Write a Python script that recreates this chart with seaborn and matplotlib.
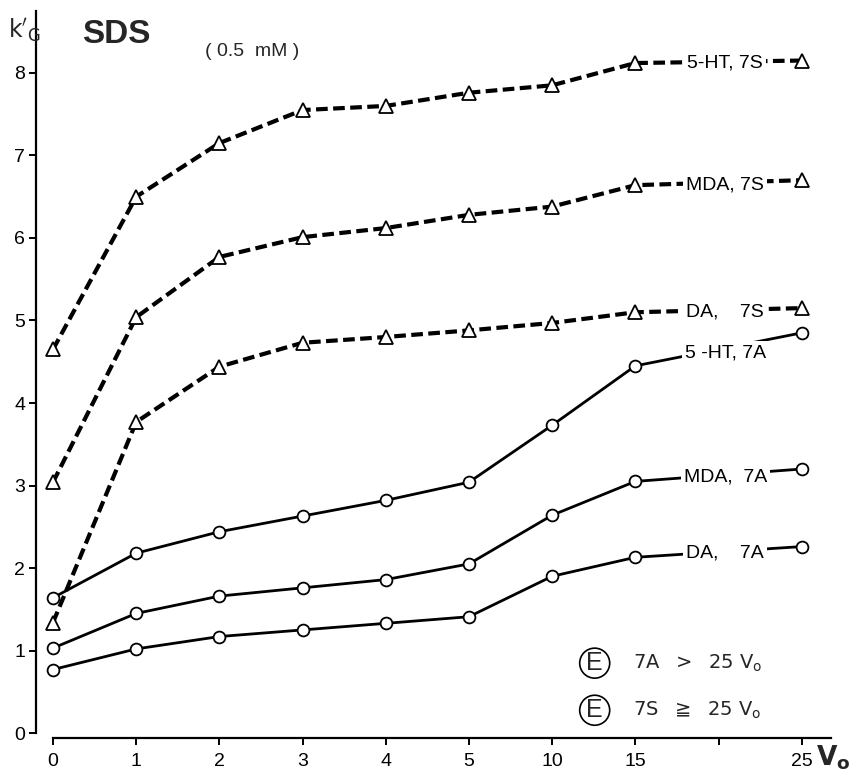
import numpy as np
import pandas as pd
import matplotlib
matplotlib.use("Agg")
import matplotlib.pyplot as plt
import seaborn as sns

# ---- data ----
v_values = [0, 1, 2, 3, 4, 5, 10, 15, 25]
tick_values = [0, 1, 2, 3, 4, 5, 10, 15, 20, 25]
tick_labels = ["0", "1", "2", "3", "4", "5", "10", "15", "", "25"]

ht5_7S = [4.65, 6.50, 7.15, 7.55, 7.60, 7.76, 7.85, 8.12, 8.15]
mda_7S = [3.04, 5.04, 5.77, 6.01, 6.12, 6.28, 6.38, 6.64, 6.70]
da_7S = [1.34, 3.77, 4.44, 4.73, 4.80, 4.88, 4.97, 5.10, 5.15]
ht5_7A = [1.64, 2.18, 2.44, 2.63, 2.82, 3.04, 3.73, 4.45, 4.85]
mda_7A = [1.03, 1.45, 1.66, 1.76, 1.86, 2.05, 2.64, 3.05, 3.20]
da_7A = [0.77, 1.02, 1.17, 1.25, 1.33, 1.41, 1.90, 2.13, 2.26]

series = [
    ("5-HT, 7S", ht5_7S, "S"),
    ("MDA, 7S", mda_7S, "S"),
    ("DA,    7S", da_7S, "S"),
    ("5 -HT, 7A", ht5_7A, "A"),
    ("MDA,  7A", mda_7A, "A"),
    ("DA,    7A", da_7A, "A"),
]
label_y = [8.12, 6.64, 5.10, 4.61, 3.10, 2.18]

sns.set_theme(style="white")
plt.rcParams["font.family"] = ["Liberation Sans", "DejaVu Sans"]
plt.rcParams["mathtext.fontset"] = "dejavusans"

fig = plt.figure(figsize=(8.52, 7.72), dpi=100)
ax = fig.add_axes([0.0427, 0.044, 0.9373, 0.9417])

# piecewise-linear V axis: ticks are evenly spaced on the page
pos = np.arange(len(tick_values), dtype=float)
def fwd(v):
    v = np.asarray(v, dtype=float)
    out = np.interp(v, tick_values, pos)
    out = np.where(v < 0, v, out)
    out = np.where(v > 25, 9 + (v - 25) / 5.0, out)
    return out
def inv(p):
    p = np.asarray(p, dtype=float)
    out = np.interp(p, pos, tick_values)
    out = np.where(p < 0, p, out)
    out = np.where(p > 9, 25 + (p - 9) * 5.0, out)
    return out
ax.set_xscale("function", functions=(fwd, inv))

for (name, vals, kind), ly in zip(series, label_y):
    df = pd.DataFrame({"V": v_values, "k": vals})
    if kind == "S":
        sns.lineplot(data=df, x="V", y="k", ax=ax, color="black", lw=3.0,
                     linestyle=(0, (2.8, 1.3)), marker="^", markersize=10,
                     markerfacecolor="white", markeredgecolor="black",
                     markeredgewidth=1.3, zorder=3)
    else:
        sns.lineplot(data=df, x="V", y="k", ax=ax, color="black", lw=2.0,
                     linestyle="-", marker="o", markersize=8.5,
                     markerfacecolor="white", markeredgecolor="black",
                     markeredgewidth=1.3, zorder=3)
    ax.text(20.4, ly, name, ha="center", va="center", fontsize=14,
            color="black", zorder=5,
            bbox=dict(boxstyle="square,pad=0.15", fc="white", ec="none"))

ax.set_xlim(float(inv(-0.2)), float(inv(9.4)))
ax.set_ylim(-0.06, 8.75)
ax.set_xticks(tick_values)
ax.set_xticklabels(tick_labels)
ax.set_yticks(range(0, 9))
ax.set_yticklabels([str(i) for i in range(0, 9)])
ax.xaxis.set_minor_locator(matplotlib.ticker.NullLocator())
ax.set_xlabel("")
ax.set_ylabel("")

for s in ["top", "right"]:
    ax.spines[s].set_visible(False)
for s in ["left", "bottom"]:
    ax.spines[s].set_color("black")
    ax.spines[s].set_linewidth(1.6)
ax.spines["left"].set_bounds(0, 8.75)
ax.spines["bottom"].set_bounds(0, float(inv(9.35)))

ax.tick_params(axis="both", which="major", direction="out", length=5,
               width=1.4, color="black", labelsize=14, labelcolor="black",
               bottom=True, left=True)
ax.tick_params(axis="x", pad=6)
ax.tick_params(axis="y", pad=3)

# header texts
fig.text(0.029, 0.961, r"$\mathrm{k}'_{\mathrm{G}}$", fontsize=17,
         ha="center", va="center")
fig.text(0.137, 0.955, "SDS", fontsize=24, fontweight="bold",
         ha="center", va="center")
fig.text(0.296, 0.933, "( 0.5  mM )", fontsize=14, ha="center", va="center")

# circled-E notes
for y, txt in [(0.141, r"$\mathrm{7A}\ \ >\ \ \mathrm{25\ V_o}$"),
               (0.080, r"$\mathrm{7S}\ \ \geqq\ \ \mathrm{25\ V_o}$")]:
    fig.text(0.698, y, "E", fontsize=18, ha="center", va="center",
             bbox=dict(boxstyle="circle,pad=0.12", fc="white", ec="black", lw=1.2))
    fig.text(0.743, y, txt, fontsize=14, ha="left", va="center")

fig.text(0.978, 0.018, r"$\mathbf{V_o}$", fontsize=19,
         ha="center", va="center")

fig.savefig("out.png", dpi=100, facecolor="white")
